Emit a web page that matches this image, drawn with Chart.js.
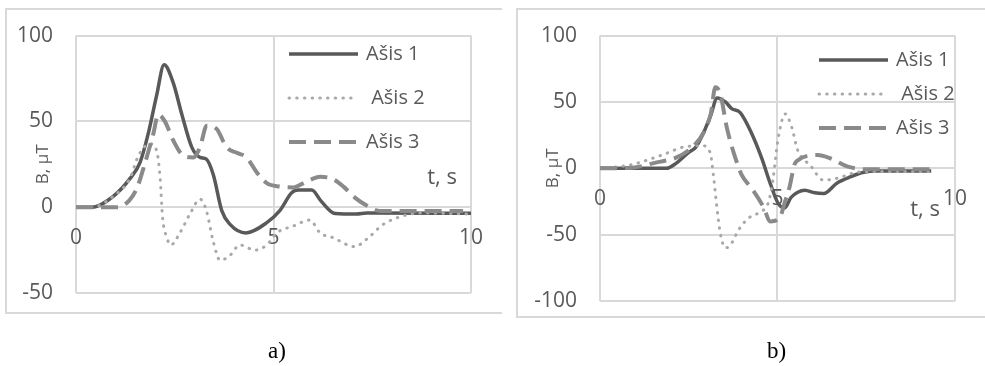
<!DOCTYPE html>
<html>
<head>
<meta charset="utf-8">
<script src="https://cdn.jsdelivr.net/npm/chart.js@4.4.1/dist/chart.umd.min.js"></script>
<style>
    html, body { margin: 0; padding: 0; background: #fff; }
    body { position: relative; width: 985px; height: 366px; overflow: hidden; }
    .frame { position: absolute; box-sizing: border-box; border: 2px solid #d9d9d9; border-right: none; }
    canvas { position: absolute; top: 0; }
    .caption { position: absolute; top: 339px; font: 23px/24px "Liberation Serif", "DejaVu Serif", serif; color: #000; }
</style>
</head>
<body>
<div class="frame" style="left:5px; top:8px; width:497px; height:306px;"></div>
<div class="frame" style="left:516px; top:8px; width:469px; height:310px;"></div>
<canvas id="chartA" width="505" height="366" style="left:0;"></canvas>
<canvas id="chartB" width="480" height="366" style="left:505px;"></canvas>
<div class="caption" style="left:268px;">a)</div>
<div class="caption" style="left:767px;">b)</div>
<script>
const FONT = "'Open Sans', 'Liberation Sans', sans-serif";
const TEXT = '#595959';
const GRID = '#d9d9d9';

// Series names as in the source (the second one carries a leading space).
const seriesNames = ['Ašis 1', ' Ašis 2', 'Ašis 3'];

// a) time (s) and field (µT)
const a1Time = [0, 0.4, 0.95, 1.37, 1.62, 1.83, 2.04, 2.23, 2.46, 2.68, 2.93, 3.14, 3.3, 3.48, 3.69, 3.9, 4.3, 4.83, 5.16, 5.46, 5.63, 5.97, 6.2, 6.56, 7.1, 7.36, 10];
const a1Vals = [0, 0, 6.5, 16.8, 26, 43, 65, 83, 72.6, 54, 35, 29, 28, 18.6, -2, -10, -15, -9, -2, 8.4, 10, 10, 3.7, -3.7, -4, -3.4, -3.5];
const a2Time = [0, 0.4, 0.95, 1.37, 1.58, 1.87, 2.04, 2.13, 2.19, 2.3, 2.4, 2.63, 2.89, 3.14, 3.3, 3.48, 3.65, 3.9, 4.15, 4.53, 4.83, 5.08, 5.5, 5.92, 6.18, 6.5, 7.06, 7.36, 7.78, 8.2, 8.7, 10];
const a2Vals = [0, 0, 6.5, 17, 30, 37, 33, 17, -5.6, -17.7, -22, -15, -3.7, 4.7, -2, -20.5, -31, -28, -22, -25, -22, -15, -11, -7.5, -15, -17.7, -23, -18.6, -10, -5.6, -3.4, -4];
const a3Time = [0, 1.05, 1.35, 1.54, 1.75, 1.96, 2.08, 2.25, 2.46, 2.72, 2.97, 3.14, 3.31, 3.56, 3.81, 4.07, 4.32, 4.57, 4.83, 5.16, 5.5, 5.84, 6.18, 6.5, 6.77, 7.06, 7.36, 7.7, 9.8];
const a3Vals = [0, 0, 4, 11, 26, 43, 54, 50, 39, 30, 29, 35, 47.5, 45.6, 35, 31.7, 29, 20.5, 14, 12, 11.5, 15, 17.7, 16.4, 12, 5.6, 1, -2.2, -2.2];

// b)
const b1Time = [0, 1.87, 2.14, 2.5, 2.7, 2.92, 3.12, 3.3, 3.53, 3.71, 3.95, 4.26, 4.55, 4.79, 5.01, 5.2, 5.38, 5.57, 5.77, 6.05, 6.3, 6.68, 7.05, 7.43, 7.8, 9.33];
const b1Vals = [0, 0, 3.7, 12, 16, 27, 40, 53, 50, 45, 42, 27, 8, -11, -26, -30, -22, -18, -16.5, -18.5, -19, -11, -6.5, -3, -2, -2];
const b2Time = [0, 0.4, 0.93, 1.39, 1.8, 2.35, 2.88, 3.1, 3.2, 3.29, 3.39, 3.53, 3.67, 3.9, 4.18, 4.5, 4.74, 4.87, 5.01, 5.22, 5.4, 5.57, 5.93, 6.3, 6.68, 7.24, 7.7, 9.33];
const b2Vals = [0, 0.8, 3, 6.7, 10.5, 16, 17, 12, -6.5, -29, -49, -60, -58, -46.6, -37.6, -33, -26, -9, 21, 41, 31, 13.5, 2, -9, -7.5, -3, -2.5, -2.5];
const b3Time = [0, 0.9, 1.6, 2.14, 2.6, 2.92, 3.12, 3.25, 3.39, 3.57, 3.81, 3.99, 4.27, 4.6, 4.8, 5.06, 5.2, 5.34, 5.48, 5.57, 6.13, 6.49, 6.96, 7.52, 9.28];
const b3Vals = [0, 0.5, 4.5, 8, 16, 27, 41, 61, 56, 31, 8, -5, -15, -29, -40, -37.5, -26, -14, 3, 6, 10, 7.5, 1.5, -0.75, -0.75];

const aYRange = [-50, 100];
const bYRange = [-100, 100];
const xRange = [0, 10];

// line looks per series: solid dark, dotted light, dashed mid grey.
// order: later series sit on top, as in the spreadsheet original.
const seriesStyles = [
    { borderColor: '#595959', borderWidth: 3.5, borderDash: [], borderCapStyle: 'butt', order: 2 },
    { borderColor: '#a9a9a9', borderWidth: 3, borderDash: [0.5, 7.2], borderCapStyle: 'round', order: 1 },
    { borderColor: '#8a8a8a', borderWidth: 4, borderDash: [17, 8], borderCapStyle: 'butt', order: 0 },
];

const toPoints = (times, vals) => times.map((t, i) => ({ x: t, y: vals[i] }));

// Excel-style legend placed inside the plot, plus the "t, s" unit label.
const overlayText = {
    id: 'overlayText',
    afterDraw(chart, args, opts) {
        const { ctx } = chart;
        ctx.save();
        ctx.textBaseline = 'middle';
        ctx.font = `20px ${FONT}`;
        chart.data.datasets.forEach((ds, i) => {
            const y = opts.legendY + i * opts.legendGap;
            ctx.beginPath();
            ctx.strokeStyle = ds.borderColor;
            ctx.lineWidth = ds.borderWidth;
            ctx.lineCap = ds.borderCapStyle;
            ctx.setLineDash(ds.borderDash);
            ctx.moveTo(opts.legendX, y);
            ctx.lineTo(opts.legendX + 69, y);
            ctx.stroke();
            ctx.setLineDash([]);
            ctx.fillStyle = TEXT;
            ctx.textAlign = 'left';
            ctx.fillText(ds.label, opts.legendX + 77, y);
        });
        ctx.font = `22px ${FONT}`;
        ctx.textAlign = 'right';
        ctx.fillText('t, s', opts.unitX, opts.unitY);
        ctx.restore();
    },
};

function makeChart(id, series, yRange, layout) {
    return new Chart(document.getElementById(id), {
        type: 'line',
        data: {
            datasets: series.map((pts, i) => ({
                label: seriesNames[i],
                data: pts,
                ...seriesStyles[i],
                borderJoinStyle: 'round',
                pointRadius: 0,
                fill: false,
                cubicInterpolationMode: 'monotone',
            })),
        },
        options: {
            responsive: false,
            animation: false,
            layout: { padding: layout.padding },
            scales: {
                x: {
                    type: 'linear',
                    position: { y: 0 },
                    min: xRange[0],
                    max: xRange[1],
                    afterFit: (scale) => { scale.height = 0; },
                    grid: { color: GRID, lineWidth: 2, drawTicks: false },
                    border: { display: false },
                    ticks: { stepSize: 5, padding: 18, color: TEXT, font: { family: FONT, size: 21 }, maxRotation: 0 },
                },
                y: {
                    type: 'linear',
                    min: yRange[0],
                    max: yRange[1],
                    // wide enough that "-100" is not clipped by the label area
                    afterFit: (scale) => { scale.width = layout.axisWidth; },
                    grid: { color: GRID, lineWidth: 2, drawTicks: false },
                    border: { display: false },
                    ticks: { stepSize: 50, padding: 23, color: TEXT, font: { family: FONT, size: 21 } },
                    title: {
                        display: true,
                        text: 'B, µT',
                        color: TEXT,
                        font: { family: FONT, size: 17 },
                        padding: { top: layout.titlePad, bottom: 0 },
                    },
                },
            },
            plugins: {
                legend: { display: false },
                tooltip: { enabled: false },
                overlayText: layout.overlay,
            },
        },
        plugins: [overlayText],
    });
}

makeChart('chartA',
    [toPoints(a1Time, a1Vals), toPoints(a2Time, a2Vals), toPoints(a3Time, a3Vals)],
    aYRange,
    {
        padding: { left: 6, right: 34, top: 24, bottom: 73 },
        axisWidth: 70,
        titlePad: 27,
        overlay: { legendX: 289, legendY: 54, legendGap: 44, unitX: 457, unitY: 178 },
    });

makeChart('chartB',
    [toPoints(b1Time, b1Vals), toPoints(b2Time, b2Vals), toPoints(b3Time, b3Vals)],
    bYRange,
    {
        padding: { left: 20, right: 26, top: 35, bottom: 65 },
        axisWidth: 75,
        titlePad: 18,
        overlay: { legendX: 314, legendY: 60, legendGap: 34, unitX: 435, unitY: 210 },
    });
</script>
</body>
</html>
